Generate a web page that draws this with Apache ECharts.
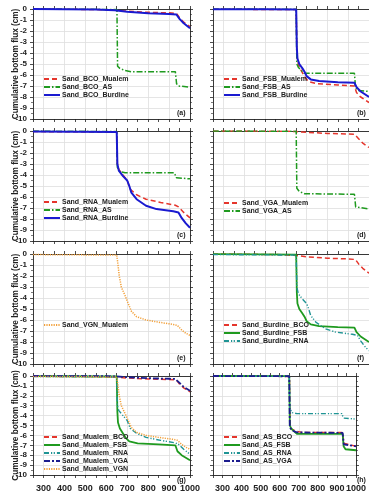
<!DOCTYPE html>
<html>
<head>
<meta charset="utf-8">
<script src="https://cdn.jsdelivr.net/npm/echarts@6/dist/echarts.min.js"></script>
<style>
html, body { margin: 0; padding: 0; background: #fff; }
#chart { width: 369px; height: 493px; }
</style>
</head>
<body>
<div id="chart"></div>
<script>
// x range (time) and y range (cm)
const xMin = 250, xMax = 1000
const yMin = -10, yMax = 0

// cumulative bottom flux curves, [x, cm]
const BCO_Mualem = [[250,0],[400,-0.02],[550,-0.05],[640,-0.1],[700,-0.2],[800,-0.3],[900,-0.35],[935,-0.4],[950,-0.8],[970,-1.2],[1000,-1.6]]
const BCO_AS = [[250,0],[500,-0.02],[651,-0.05],[654,-5.2],[665,-5.4],[690,-5.6],[720,-5.7],[930,-5.7],[936,-6.8],[945,-7.0],[1000,-7.1]]
const BCO_Burdine = [[250,0],[400,-0.02],[550,-0.05],[640,-0.12],[700,-0.25],[800,-0.38],[900,-0.45],[935,-0.5],[950,-0.9],[970,-1.3],[1000,-1.75]]
const FSB_Mualem = [[250,-0.02],[650,-0.05],[653,-3.6],[656,-4.7],[665,-5.3],[680,-5.8],[695,-6.3],[710,-6.6],[750,-6.8],[850,-6.9],[930,-7.0],[940,-7.6],[960,-8.0],[1000,-8.5]]
const FSB_AS = [[250,0],[650,-0.02],[653,-5.0],[660,-5.3],[675,-5.6],[690,-5.85],[930,-5.85],[935,-7.1],[945,-7.4],[1000,-7.5]]
const FSB_Burdine = [[250,-0.02],[500,-0.03],[650,-0.05],[653,-3.5],[656,-4.5],[665,-5.0],[680,-5.4],[690,-5.7],[700,-6.1],[720,-6.4],[760,-6.55],[850,-6.65],[930,-6.7],[940,-7.1],[960,-7.5],[1000,-8.0]]
const RNA_Mualem = [[250,-0.05],[650,-0.1],[653,-3.0],[660,-3.5],[680,-4.0],[700,-4.5],[715,-5.3],[745,-5.8],[790,-6.2],[860,-6.5],[930,-6.75],[945,-6.9],[970,-7.4],[1000,-7.9]]
const RNA_AS = [[250,0],[650,-0.05],[653,-3.3],[665,-3.7],[690,-3.8],[925,-3.8],[935,-4.25],[1000,-4.35]]
const RNA_Burdine = [[250,-0.05],[650,-0.1],[653,-3.0],[660,-3.6],[680,-4.1],[700,-4.5],[710,-5.0],[720,-5.6],[745,-6.2],[790,-6.8],[840,-7.1],[920,-7.3],[945,-7.4],[960,-7.9],[980,-8.4],[1000,-8.8]]
const VGA_Mualem = [[250,0],[600,-0.02],[650,-0.05],[700,-0.12],[800,-0.22],[900,-0.28],[930,-0.3],[950,-0.7],[970,-1.1],[1000,-1.5]]
const VGA_AS = [[250,0],[650,-0.02],[653,-5.2],[665,-5.5],[690,-5.7],[930,-5.75],[936,-6.9],[945,-7.05],[1000,-7.1]]
const VGN_Mualem = [[250,-0.05],[650,-0.1],[655,-0.8],[662,-2.0],[672,-3.0],[690,-3.8],[705,-4.5],[720,-5.2],[745,-5.7],[790,-6.0],[850,-6.2],[920,-6.4],[940,-6.5],[960,-6.9],[980,-7.2],[1000,-7.4]]

// line looks
const looks = {
  red:    { color: '#e5352c', type: [5, 3], width: 1.5 },
  green:  { color: '#1f9a1f', type: [6, 2, 1.5, 2], width: 1.5 },
  blue:   { color: '#1a1ad0', type: 'solid', width: 2 },
  greenS: { color: '#1f9a1f', type: 'solid', width: 1.8 },
  teal:   { color: '#1f9494', type: [5, 2, 1.2, 1.5, 1.2, 2], width: 1.4 },
  navy:   { color: '#1c1c8e', type: [6, 2, 2, 2], width: 1.8 },
  orange: { color: '#f2a03a', type: [1.2, 1.2], width: 1.5 }
}

const panels = [
  { tag: '(a)', legendTop: 75.5, lines: [['Sand_BCO_Mualem', BCO_Mualem, 'red'], ['Sand_BCO_AS', BCO_AS, 'green'], ['Sand_BCO_Burdine', BCO_Burdine, 'blue']] },
  { tag: '(b)', legendTop: 75.5, lines: [['Sand_FSB_Mualem', FSB_Mualem, 'red'], ['Sand_FSB_AS', FSB_AS, 'green'], ['Sand_FSB_Burdine', FSB_Burdine, 'blue']] },
  { tag: '(c)', legendTop: 198.5, lines: [['Sand_RNA_Mualem', RNA_Mualem, 'red'], ['Sand_RNA_AS', RNA_AS, 'green'], ['Sand_RNA_Burdine', RNA_Burdine, 'blue']] },
  { tag: '(d)', legendTop: 199.5, lines: [['Sand_VGA_Mualem', VGA_Mualem, 'red'], ['Sand_VGA_AS', VGA_AS, 'green']] },
  { tag: '(e)', legendTop: 321.5, lines: [['Sand_VGN_Mualem', VGN_Mualem, 'orange']] },
  { tag: '(f)', legendTop: 321.5, lines: [['Sand_Burdine_BCO', BCO_Burdine, 'red'], ['Sand_Burdine_FSB', FSB_Burdine, 'greenS'], ['Sand_Burdine_RNA', RNA_Burdine, 'teal']] },
  { tag: '(g)', legendTop: 433.5, lines: [['Sand_Mualem_BCO', BCO_Mualem, 'red'], ['Sand_Mualem_FSB', FSB_Mualem, 'greenS'], ['Sand_Mualem_RNA', RNA_Mualem, 'teal'], ['Sand_Mualem_VGA', VGA_Mualem, 'navy'], ['Sand_Mualem_VGN', VGN_Mualem, 'orange']] },
  { tag: '(h)', legendTop: 433.5, lines: [['Sand_AS_BCO', BCO_AS, 'red'], ['Sand_AS_FSB', FSB_AS, 'greenS'], ['Sand_AS_RNA', RNA_AS, 'teal'], ['Sand_AS_VGA', VGA_AS, 'navy']] }
]

const lefts = [33, 213]
const tops = [9, 131, 254, 376]
const W = 157, H = 110
const ink = '#222'
const font = 'Liberation Sans'

let grid = [], xAxis = [], yAxis = [], series = [], legend = [], title = []

panels.forEach((p, i) => {
  const col = i % 2, row = Math.floor(i / 2)
  const left = lefts[col], top = tops[row]
  grid.push({ left: left, top: top, width: W, height: H })

  const tick = { show: true, length: 3, lineStyle: { color: ink, width: 0.8 } }
  const line = { show: true, onZero: false, lineStyle: { color: ink, width: 0.9 } }

  xAxis.push({
    gridIndex: i, type: 'value', min: xMin, max: xMax, interval: 50,
    axisLine: line, axisTick: tick,
    axisLabel: {
      show: row === 3, fontSize: 9, fontWeight: 'bold', color: ink, fontFamily: font, margin: 9,
      formatter: v => (v % 100 === 0 ? String(v) : '')
    },
    splitLine: { show: true, lineStyle: { color: ['rgba(0,0,0,0)', '#dedede'], width: 0.8 } }
  })
  xAxis.push({
    gridIndex: i, type: 'value', position: 'top', min: xMin, max: xMax, interval: 50,
    axisLine: line, axisTick: tick, axisLabel: { show: false }, splitLine: { show: false }
  })

  yAxis.push({
    gridIndex: i, type: 'value', min: yMin, max: yMax, interval: 1,
    axisLine: line, axisTick: tick,
    minorTick: { show: true, splitNumber: 2, length: 2, lineStyle: { color: ink, width: 0.6 } },
    axisLabel: { show: col === 0, fontSize: 8, fontWeight: 'bold', color: ink, fontFamily: font, margin: 6 },
    splitLine: { show: true, lineStyle: { color: '#dedede', width: 0.8 } },
    name: col === 0 ? 'Cumulative bottom flux (cm)' : '',
    nameLocation: 'middle', nameGap: 13, nameMoveOverlap: false,
    nameTextStyle: { fontSize: 8.2, fontWeight: 'bold', color: ink, fontFamily: font }
  })
  yAxis.push({
    gridIndex: i, type: 'value', position: 'right', min: yMin, max: yMax, interval: 1,
    axisLine: line, axisTick: tick,
    minorTick: { show: true, splitNumber: 2, length: 2, lineStyle: { color: ink, width: 0.6 } },
    axisLabel: { show: false }, splitLine: { show: false }
  })

  p.lines.forEach(([name, data, look]) => {
    series.push({
      name: name, type: 'line', xAxisIndex: 2 * i, yAxisIndex: 2 * i,
      data: data, showSymbol: false, symbol: 'none',
      lineStyle: looks[look], itemStyle: { color: looks[look].color },
      animation: false
    })
  })

  legend.push({
    data: p.lines.map(l => l[0]), orient: 'vertical',
    left: left + 10, top: p.legendTop, padding: 0,
    itemWidth: 16, itemHeight: 7, itemGap: 1,
    itemStyle: { opacity: 0 },
    textStyle: { fontSize: 7, fontWeight: 'bold', color: ink, fontFamily: font, padding: [0, 0, 0, -3] }
  })

  title.push({
    text: p.tag, left: left + W - 13, top: top + H - 9, padding: 0,
    textStyle: { fontSize: 7, fontWeight: 'bold', color: ink, fontFamily: font }
  })
})

let myChart = echarts.init(document.getElementById('chart'))
myChart.setOption({
  backgroundColor: '#FFFFFF',
  animation: false,
  textStyle: { fontFamily: font },
  title: title,
  grid: grid,
  xAxis: xAxis,
  yAxis: yAxis,
  legend: legend,
  series: series
})
</script>
</body>
</html>
